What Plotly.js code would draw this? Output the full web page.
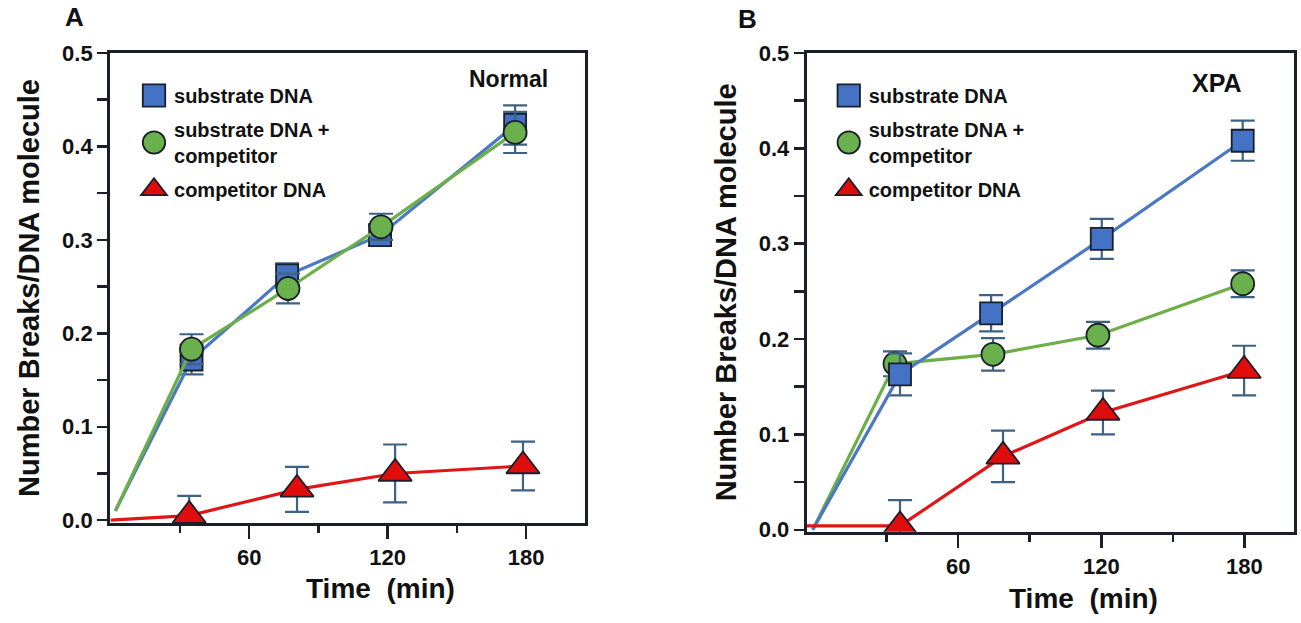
<!DOCTYPE html>
<html>
<head>
<meta charset="utf-8">
<script src="https://cdn.plot.ly/plotly-3.0.1.min.js"></script>
<style>
  body { margin: 0; background: #fff; }
  #chart { width: 1301px; height: 623px; }
</style>
</head>
<body>
<div id="chart"></div>
<script>
// values (time in min, breaks per DNA molecule)
// NaN = no error bar at that point

// panel A - Normal
var timeA_sub = [2, 35, 76.4, 116.7, 175.2];
var subA = [0.01, 0.172, 0.262, 0.305, 0.423];
var subA_err = [NaN, 0.016, 0.013, 0.011, 0.021];

var timeA_mix = [2, 35, 76.8, 117.1, 175.2];
var mixA = [0.01, 0.183, 0.248, 0.314, 0.415];
var mixA_err = [NaN, 0.016, 0.016, 0.014, 0.022];

var timeA_comp = [0, 34, 80.7, 123.2, 178.6];
var compA = [0, 0.005, 0.033, 0.05, 0.058];
var compA_err = [NaN, 0.021, 0.024, 0.031, 0.026];

// panel B - XPA
var timeB_sub = [-1, 35.6, 73.8, 120.2, 179.3];
var subB = [0, 0.163, 0.227, 0.305, 0.408];
var subB_err = [NaN, 0.022, 0.019, 0.021, 0.021];

var timeB_mix = [-1, 33.5, 74.6, 118.6, 179.3];
var mixB = [0, 0.174, 0.184, 0.204, 0.258];
var mixB_err = [NaN, 0.013, 0.017, 0.014, 0.014];

var timeB_comp = [-3.5, 35.6, 78.8, 120.7, 179.9];
var compB = [0.004, 0.004, 0.077, 0.123, 0.167];
var compB_err = [NaN, 0.027, 0.027, 0.023, 0.026];

var seriesNames = ["substrate DNA", "substrate DNA +<br>competitor", "competitor DNA"];
var xTicks = [60, 120, 180];
var xMinor = [30, 90, 150];

var FONT = "Liberation Sans, Arial, Helvetica, sans-serif";
var INK = "#1b1f2a";
var ERR = "#3d6283";

var styles = [
  {line: "#4a78c2", fill: "#4472c4", symbol: "square", size: 22},
  {line: "#6cae48", fill: "#6ab04c", symbol: "circle", size: 23},
  {line: "#e01515", fill: "#e00d0d", symbol: "triangle-up", size: 29}
];

function series(x, y, err, st, xa, ya){
  // the first point (start of the run) has no symbol in the figure
  var shown = x.map(function(v, k){ return k === 0 ? 0 : 1; });
  return {
    x: x, y: y, xaxis: xa, yaxis: ya,
    type: "scatter", mode: "lines+markers", showlegend: false,
    line: {color: st.line, width: 3.2},
    marker: {symbol: st.symbol, size: st.size, color: st.fill, opacity: shown,
             line: {color: INK, width: 1.8}},
    error_y: {type: "data", array: err, visible: true,
              color: ERR, thickness: 2.2, width: 12}
  };
}

// marker-only entries for the legends
function legendEntry(i, leg, xa, ya){
  var st = styles[i];
  return {
    x: [null], y: [null], xaxis: xa, yaxis: ya,
    type: "scatter", mode: "markers", name: seriesNames[i],
    legend: leg, legendgroup: leg + i,
    marker: {symbol: st.symbol, size: 16, color: st.fill, opacity: 1,
             line: {color: INK, width: 1.5}}
  };
}

var data = [
  series(timeA_sub, subA, subA_err, styles[0], "x", "y"),
  series(timeA_mix, mixA, mixA_err, styles[1], "x", "y"),
  series(timeA_comp, compA, compA_err, styles[2], "x", "y"),
  series(timeB_mix, mixB, mixB_err, styles[1], "x2", "y2"),
  series(timeB_sub, subB, subB_err, styles[0], "x2", "y2"),
  series(timeB_comp, compB, compB_err, styles[2], "x2", "y2")
];
for (var i = 0; i < 3; i++){
  data.push(legendEntry(i, "legend", "x", "y"));
}
for (var i = 0; i < 3; i++){
  data.push(legendEntry(i, "legend2", "x2", "y2"));
}

function xAxis(domain, range, anchor){
  return {
    domain: domain, range: range, anchor: anchor,
    tickmode: "array", tickvals: xTicks,
    ticks: "outside", ticklen: 13, tickwidth: 2.5, tickcolor: INK,
    minor: {tickmode: "array", tickvals: xMinor, ticks: "outside",
            ticklen: 7, tickwidth: 2.5, tickcolor: INK},
    showline: true, linewidth: 3, linecolor: INK, mirror: true,
    showgrid: false, zeroline: false, fixedrange: true,
    tickfont: {family: FONT, size: 22, weight: "bold", color: "#111"}
  };
}

function yAxis(domain, range, anchor){
  return {
    domain: domain, range: range, anchor: anchor,
    tick0: 0, dtick: 0.1, tickformat: ".1f",
    ticks: "outside", ticklen: 10, tickwidth: 2.5, tickcolor: INK,
    minor: {tick0: 0, dtick: 0.05, ticks: "outside",
            ticklen: 10, tickwidth: 2.5, tickcolor: INK},
    showline: true, linewidth: 3, linecolor: INK, mirror: true,
    showgrid: false, zeroline: false, fixedrange: true,
    tickfont: {family: FONT, size: 22, weight: "bold", color: "#111"},
    title: {text: "Number Breaks/DNA molecule", standoff: 14,
            font: {family: FONT, size: 29, weight: "bold", color: "#111"}}
  };
}

function legendBox(x){
  return {
    x: x, y: 0.878, xanchor: "left", yanchor: "top",
    bgcolor: "rgba(0,0,0,0)", borderwidth: 0,
    tracegroupgap: 5, itemwidth: 30, itemclick: false,
    font: {family: FONT, size: 20, weight: "bold", color: "#111"}
  };
}

function label(text, x, y, size){
  return {text: text, x: x, y: y, xref: "paper", yref: "paper",
          xanchor: "center", yanchor: "middle", showarrow: false,
          font: {family: FONT, size: size, weight: "bold", color: "#111"}};
}

var layout = {
  width: 1301, height: 623,
  margin: {l: 0, r: 0, t: 0, b: 0},
  paper_bgcolor: "#fff", plot_bgcolor: "#fff",
  showlegend: true,
  xaxis: xAxis([0.0846, 0.4497], [-0.3, 205.5], "y"),
  yaxis: yAxis([0.1605, 0.9149], [-0.003, 0.5], "x"),
  xaxis2: xAxis([0.6201, 0.9946], [-3.5, 200.8], "y2"),
  yaxis2: yAxis([0.1466, 0.9149], [-0.002, 0.5], "x2"),
  legend: legendBox(0.103),
  legend2: legendBox(0.637),
  annotations: [
    label("A", 0.0576, 0.9727, 26),
    label("B", 0.5742, 0.9695, 26),
    label("Normal", 0.3905, 0.873, 23),
    label("XPA", 0.9355, 0.867, 25),
    label("Time \u00a0(min)", 0.2921, 0.056, 28),
    label("Time \u00a0(min)", 0.8325, 0.040, 28)
  ]
};

Plotly.newPlot("chart", data, layout, {displayModeBar: false, staticPlot: true})
  .then(function(gd){
    // legend symbols are capped at 16px by plotly; the figure's are larger
    gd.querySelectorAll(".legendpoints path.scatterpts").forEach(function(p){
      var t = p.getAttribute("transform") || "";
      p.setAttribute("transform", t + " scale(1.4)");
      p.style.strokeWidth = "1.3px";
    });
  });
</script>
</body>
</html>
